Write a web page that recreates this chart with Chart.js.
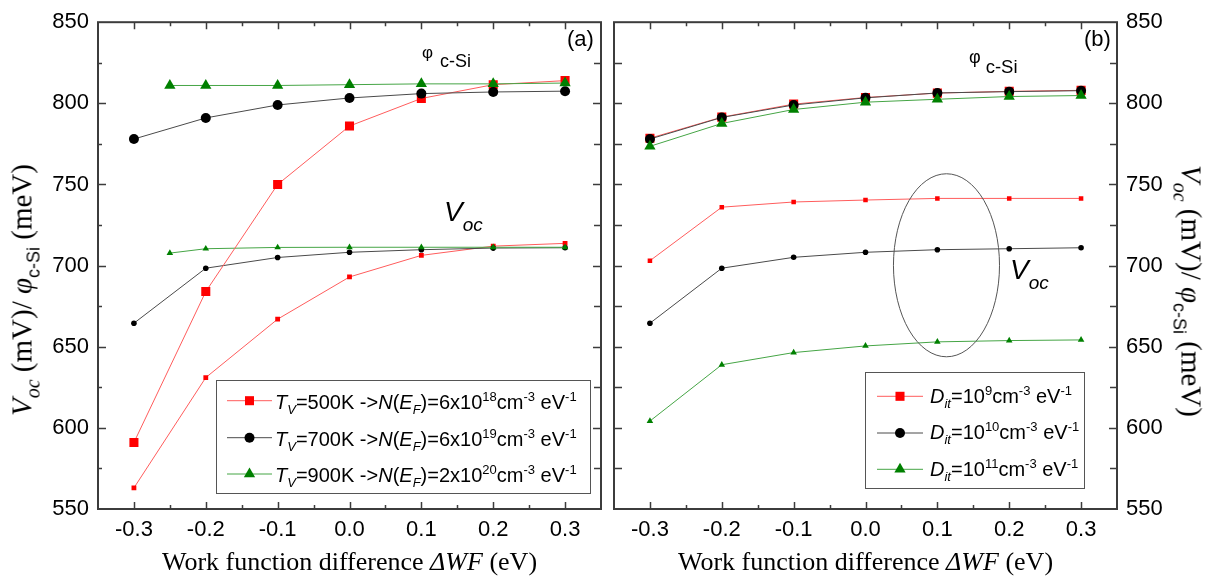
<!DOCTYPE html>
<html><head><meta charset="utf-8">
<script src="https://cdn.jsdelivr.net/npm/chart.js@4.4.0/dist/chart.umd.min.js"></script>
<style>
html,body{margin:0;padding:0;background:#fff;}
body{width:1223px;height:581px;overflow:hidden;position:relative;}
canvas{position:absolute;top:0;}
.t{position:absolute;white-space:nowrap;color:#000;line-height:1;}
.sans{font-family:'Liberation Sans',Arial,sans-serif;}
.serif{font-family:'Liberation Serif','Times New Roman',serif;}
.lgA{font-size:20px;line-height:20px;}
.lgB{font-size:20px;line-height:20px;}
.sup{font-size:13px;position:relative;top:-8px;}
.sub{font-size:13px;position:relative;top:5px;}
</style></head><body>
<canvas id="ca" width="610" height="581" style="left:0px"></canvas>
<canvas id="cb" width="619" height="581" style="left:604px"></canvas>

<!-- axis titles -->
<div class="t serif" style="left:349.5px;top:549px;font-size:26px;transform:translateX(-50%);">Work function difference <i>ΔWF</i> (eV)</div>
<div class="t serif" style="left:865.5px;top:549px;font-size:26px;transform:translateX(-50%);">Work function difference <i>ΔWF</i> (eV)</div>
<div class="t serif" style="left:21.5px;top:290px;font-size:29px;transform:translate(-50%,-50%) rotate(-90deg);"><i>V</i><i style="font-size:20px;position:relative;top:8px">oc</i> (mV)/ <i>φ</i><span class="sans" style="font-size:18px;position:relative;top:8px">c-Si</span> (meV)</div>
<div class="t serif" style="left:1190.5px;top:291px;font-size:29px;transform:translate(-50%,-50%) rotate(90deg);"><i>V</i><i style="font-size:20px;position:relative;top:8px">oc</i> (mV)/ <i>φ</i><span class="sans" style="font-size:18px;position:relative;top:8px">c-Si</span> (meV)</div>

<!-- annotations -->
<div class="t sans" style="left:422px;top:43px;font-size:17px;">φ<span style="font-size:18px;position:relative;top:9px;margin-left:7px">c-Si</span></div>
<div class="t sans" style="left:969px;top:48px;font-size:18px;">φ<span style="font-size:18.5px;position:relative;top:10px;margin-left:5px">c-Si</span></div>
<div class="t sans" style="left:444px;top:198px;font-size:28px;"><i>V</i><i style="font-size:19px;position:relative;top:10px">oc</i></div>
<div class="t sans" style="left:1010px;top:256px;font-size:28px;"><i>V</i><i style="font-size:19px;position:relative;top:10px">oc</i></div>
<div class="t sans" style="left:567px;top:28px;font-size:22px;">(a)</div>
<div class="t sans" style="left:1084px;top:28px;font-size:22px;">(b)</div>

<!-- legend texts -->
<div class="t sans lgA" style="left:275px;top:392.3px;"><i>T</i><i class="sub">V</i>=500K -&gt;<i>N</i>(<i>E</i><i class="sub">F</i>)=6x10<span class="sup">18</span>cm<span class="sup">-3</span> eV<span class="sup">-1</span></div>
<div class="t sans lgA" style="left:275px;top:429px;"><i>T</i><i class="sub">V</i>=700K -&gt;<i>N</i>(<i>E</i><i class="sub">F</i>)=6x10<span class="sup">19</span>cm<span class="sup">-3</span> eV<span class="sup">-1</span></div>
<div class="t sans lgA" style="left:275px;top:465.3px;"><i>T</i><i class="sub">V</i>=900K -&gt;<i>N</i>(<i>E</i><i class="sub">F</i>)=2x10<span class="sup">20</span>cm<span class="sup">-3</span> eV<span class="sup">-1</span></div>
<div class="t sans lgB" style="left:930px;top:386.3px;"><i>D</i><i class="sub">it</i>=10<span class="sup">9</span>cm<span class="sup">-3</span> eV<span class="sup">-1</span></div>
<div class="t sans lgB" style="left:930px;top:422.3px;"><i>D</i><i class="sub">it</i>=10<span class="sup">10</span>cm<span class="sup">-3</span> eV<span class="sup">-1</span></div>
<div class="t sans lgB" style="left:930px;top:458.7px;"><i>D</i><i class="sub">it</i>=10<span class="sup">11</span>cm<span class="sup">-3</span> eV<span class="sup">-1</span></div>

<script>
// ---------- data ----------
const wfDiff = [-0.3, -0.2, -0.1, 0.0, 0.1, 0.2, 0.3];
const wfDiff900K = [-0.25, -0.2, -0.1, 0.0, 0.1, 0.2, 0.3];
const xTickValues = [-0.3, -0.2, -0.1, 0.0, 0.1, 0.2, 0.3];
const yTickValues = [550, 600, 650, 700, 750, 800, 850];

// panel (a): phi_c-Si (large markers) and Voc (small markers)
const phiA_500K = [591, 684, 750, 786, 803, 811.5, 814];
const phiA_700K = [778, 791, 799, 803.3, 806, 807, 807.5];
const phiA_900K = [811, 811, 811, 811.5, 812, 812, 812.5];
const vocA_500K = [563, 631, 667, 693, 706.3, 712, 713.7];
const vocA_700K = [664.5, 698.4, 705, 708.2, 709.8, 710.8, 711];
const vocA_900K = [707.7, 710.4, 711.2, 711.3, 711.3, 711.3, 711.3];

// panel (b)
const phiB_1e9 = [778.5, 791.5, 799.5, 803.6, 806.3, 807.4, 808];
const phiB_1e10 = [778, 791.3, 799, 803.4, 806.4, 807.2, 807.8];
const phiB_1e11 = [773.5, 787.6, 796.2, 800.7, 802.5, 804.2, 804.8];
const vocB_1e9 = [703, 736, 739.2, 740.4, 741.4, 741.4, 741.4];
const vocB_1e10 = [664.5, 698.4, 705.1, 708.2, 709.8, 710.4, 711];
const vocB_1e11 = [604.2, 638.9, 646.4, 650.5, 653, 653.8, 654.2];

// ellipse annotation (data units) in panel (b)
const ellipseB = {cx: 0.1127, cy: 700.2, rx: 0.0738, ry: 56.4};

// ---------- styles ----------
const RED = '#ff0000', BLACK = '#000000', GREEN = '#008000';
const RED_LINE = '#ff5c5c', BLACK_LINE = '#4a4a4a', GREEN_LINE = '#45a545';
const SANS = "'Liberation Sans', Arial, sans-serif";
const AXIS = '#3c3c3c';

function pts(xs, ys) { return xs.map((x, i) => ({x: x, y: ys[i]})); }
function ds(label, xs, ys, style, color, lineColor, r) {
  return {label, data: pts(xs, ys), showLine: true, borderColor: lineColor, borderWidth: 1,
    pointStyle: style, pointRadius: r, pointHoverRadius: r, pointBackgroundColor: color,
    pointBorderColor: color, pointBorderWidth: 0, fill: false, tension: 0};
}

function drawMarker(ctx, style, x, y, r, color) {
  ctx.fillStyle = color;
  ctx.beginPath();
  if (style === 'rect') {
    const s = Math.SQRT1_2 * r; ctx.rect(x - s, y - s, 2 * s, 2 * s);
  } else if (style === 'circle') {
    ctx.arc(x, y, r, 0, Math.PI * 2);
  } else {
    let a = 0;
    ctx.moveTo(x + Math.sin(a) * r, y - Math.cos(a) * r);
    a += 2 * Math.PI / 3; ctx.lineTo(x + Math.sin(a) * r, y - Math.cos(a) * r);
    a += 2 * Math.PI / 3; ctx.lineTo(x + Math.sin(a) * r, y - Math.cos(a) * r);
    ctx.closePath();
  }
  ctx.fill();
}

function mids(arr) { const m = []; for (let i = 0; i < arr.length - 1; i++) m.push((arr[i] + arr[i + 1]) / 2); return m; }

function makePlugin(opt) {
  return {
    id: 'deco',
    afterDatasetsDraw(chart) {
      const ctx = chart.ctx, a = chart.chartArea, xs = chart.scales.x, ys = chart.scales.y;
      ctx.save();
      // ticks (inward)
      ctx.strokeStyle = AXIS; ctx.lineWidth = 1.5;
      const yMaj = yTickValues.slice(1, -1), yMin = mids(yTickValues);
      const xMaj = xTickValues, xMin = mids(xTickValues);
      ctx.beginPath();
      yMaj.forEach(v => { const p = Math.round(ys.getPixelForValue(v)) + 0.5;
        ctx.moveTo(a.left, p); ctx.lineTo(a.left + 8, p);
        ctx.moveTo(a.right, p); ctx.lineTo(a.right - 8, p); });
      yMin.forEach(v => { const p = Math.round(ys.getPixelForValue(v)) + 0.5;
        ctx.moveTo(a.left, p); ctx.lineTo(a.left + opt.leftMinor, p);
        ctx.moveTo(a.right, p); ctx.lineTo(a.right - opt.rightMinor, p); });
      xMaj.forEach(v => { const p = Math.round(xs.getPixelForValue(v)) + 0.5;
        ctx.moveTo(p, a.top); ctx.lineTo(p, a.top + 7);
        ctx.moveTo(p, a.bottom); ctx.lineTo(p, a.bottom - 7); });
      xMin.forEach(v => { const p = Math.round(xs.getPixelForValue(v)) + 0.5;
        ctx.moveTo(p, a.top); ctx.lineTo(p, a.top + 4);
        ctx.moveTo(p, a.bottom); ctx.lineTo(p, a.bottom - 4); });
      ctx.stroke();
      // frame
      ctx.lineWidth = 2; ctx.strokeStyle = AXIS;
      ctx.strokeRect(a.left, a.top, a.right - a.left, a.bottom - a.top);
      // ellipse
      if (opt.ellipse) {
        const e = opt.ellipse;
        const cx = xs.getPixelForValue(e.cx), cy = ys.getPixelForValue(e.cy);
        const rx = Math.abs(xs.getPixelForValue(e.cx + e.rx) - cx);
        const ry = Math.abs(ys.getPixelForValue(e.cy + e.ry) - cy);
        ctx.lineWidth = 1; ctx.strokeStyle = '#555';
        ctx.beginPath(); ctx.ellipse(cx, cy, rx, ry, 0, 0, Math.PI * 2); ctx.stroke();
      }
      // legend box + samples
      const L = opt.legend;
      ctx.lineWidth = 1; ctx.strokeStyle = '#555';
      ctx.strokeRect(L.box[0] + 0.5, L.box[1] + 0.5, L.box[2] - L.box[0], L.box[3] - L.box[1]);
      L.items.forEach(it => {
        const dset = chart.data.datasets[it.ds];
        ctx.strokeStyle = dset.borderColor; ctx.lineWidth = 1;
        ctx.beginPath(); ctx.moveTo(L.x0, it.y); ctx.lineTo(L.x1, it.y); ctx.stroke();
        drawMarker(ctx, dset.pointStyle, (L.x0 + L.x1) / 2, it.y, dset.pointRadius, dset.pointBackgroundColor);
      });
      ctx.restore();
    }
  };
}

function baseOptions(yPos, yWidth, padL, padR) {
  return {
    responsive: false, animation: false, events: [],
    layout: {padding: {left: padL, right: padR, top: 20, bottom: 0}},
    plugins: {legend: {display: false}, tooltip: {enabled: false}},
    scales: {
      x: {type: 'linear', min: -0.35, max: 0.35,
        afterBuildTicks: s => { s.ticks = xTickValues.map(v => ({value: v})); },
        afterFit: s => { s.height = 72; },
        grid: {display: false, drawTicks: false}, border: {display: false},
        ticks: {color: '#000', font: {family: SANS, size: 22}, padding: 8,
          callback: v => Number(v).toFixed(1), maxRotation: 0, autoSkip: false}},
      y: {type: 'linear', position: yPos, min: 550, max: 850,
        afterBuildTicks: s => { s.ticks = yTickValues.map(v => ({value: v})); },
        afterFit: s => { s.width = yWidth; },
        grid: {display: false, drawTicks: false}, border: {display: false},
        ticks: {color: '#000', font: {family: SANS, size: 22}, padding: 9, autoSkip: false}}
    }
  };
}

// panel (a)
const dsA = [
  ds('phi 900K', wfDiff900K, phiA_900K, 'triangle', GREEN, GREEN_LINE, 6.5),
  ds('phi 700K', wfDiff, phiA_700K, 'circle', BLACK, BLACK_LINE, 5),
  ds('phi 500K', wfDiff, phiA_500K, 'rect', RED, RED_LINE, 6.4),
  ds('Voc 900K', wfDiff900K, vocA_900K, 'triangle', GREEN, GREEN_LINE, 3.8),
  ds('Voc 700K', wfDiff, vocA_700K, 'circle', BLACK, BLACK_LINE, 2.8),
  ds('Voc 500K', wfDiff, vocA_500K, 'rect', RED, RED_LINE, 3.4)
];
const optA = baseOptions('left', 98, 0, 9);
new Chart(document.getElementById('ca'), {
  type: 'line', data: {datasets: dsA}, options: optA,
  plugins: [makePlugin({leftMinor: 4, rightMinor: 7, legend: {
    box: [216, 380, 590, 493], x0: 227, x1: 272,
    items: [{ds: 2, y: 400.7}, {ds: 1, y: 437.7}, {ds: 0, y: 474}]}})]
});

// panel (b)
const dsB = [
  ds('phi 1e11', wfDiff, phiB_1e11, 'triangle', GREEN, GREEN_LINE, 6.5),
  ds('phi 1e10', wfDiff, phiB_1e10, 'circle', BLACK, BLACK_LINE, 5),
  ds('phi 1e9', wfDiff, phiB_1e9, 'rect', RED, RED_LINE, 6.4),
  ds('Voc 1e11', wfDiff, vocB_1e11, 'triangle', GREEN, GREEN_LINE, 3.8),
  ds('Voc 1e10', wfDiff, vocB_1e10, 'circle', BLACK, BLACK_LINE, 2.8),
  ds('Voc 1e9', wfDiff, vocB_1e9, 'rect', RED, RED_LINE, 3.2)
];
const optB = baseOptions('right', 106, 10, 0);
new Chart(document.getElementById('cb'), {
  type: 'line', data: {datasets: dsB}, options: optB,
  plugins: [makePlugin({leftMinor: 8, rightMinor: 7, ellipse: ellipseB, legend: {
    box: [865 - 604, 372, 1084 - 604, 488], x0: 877 - 604, x1: 923 - 604,
    items: [{ds: 2, y: 396.3}, {ds: 1, y: 433}, {ds: 0, y: 469.3}]}})]
});
</script>
</body></html>
